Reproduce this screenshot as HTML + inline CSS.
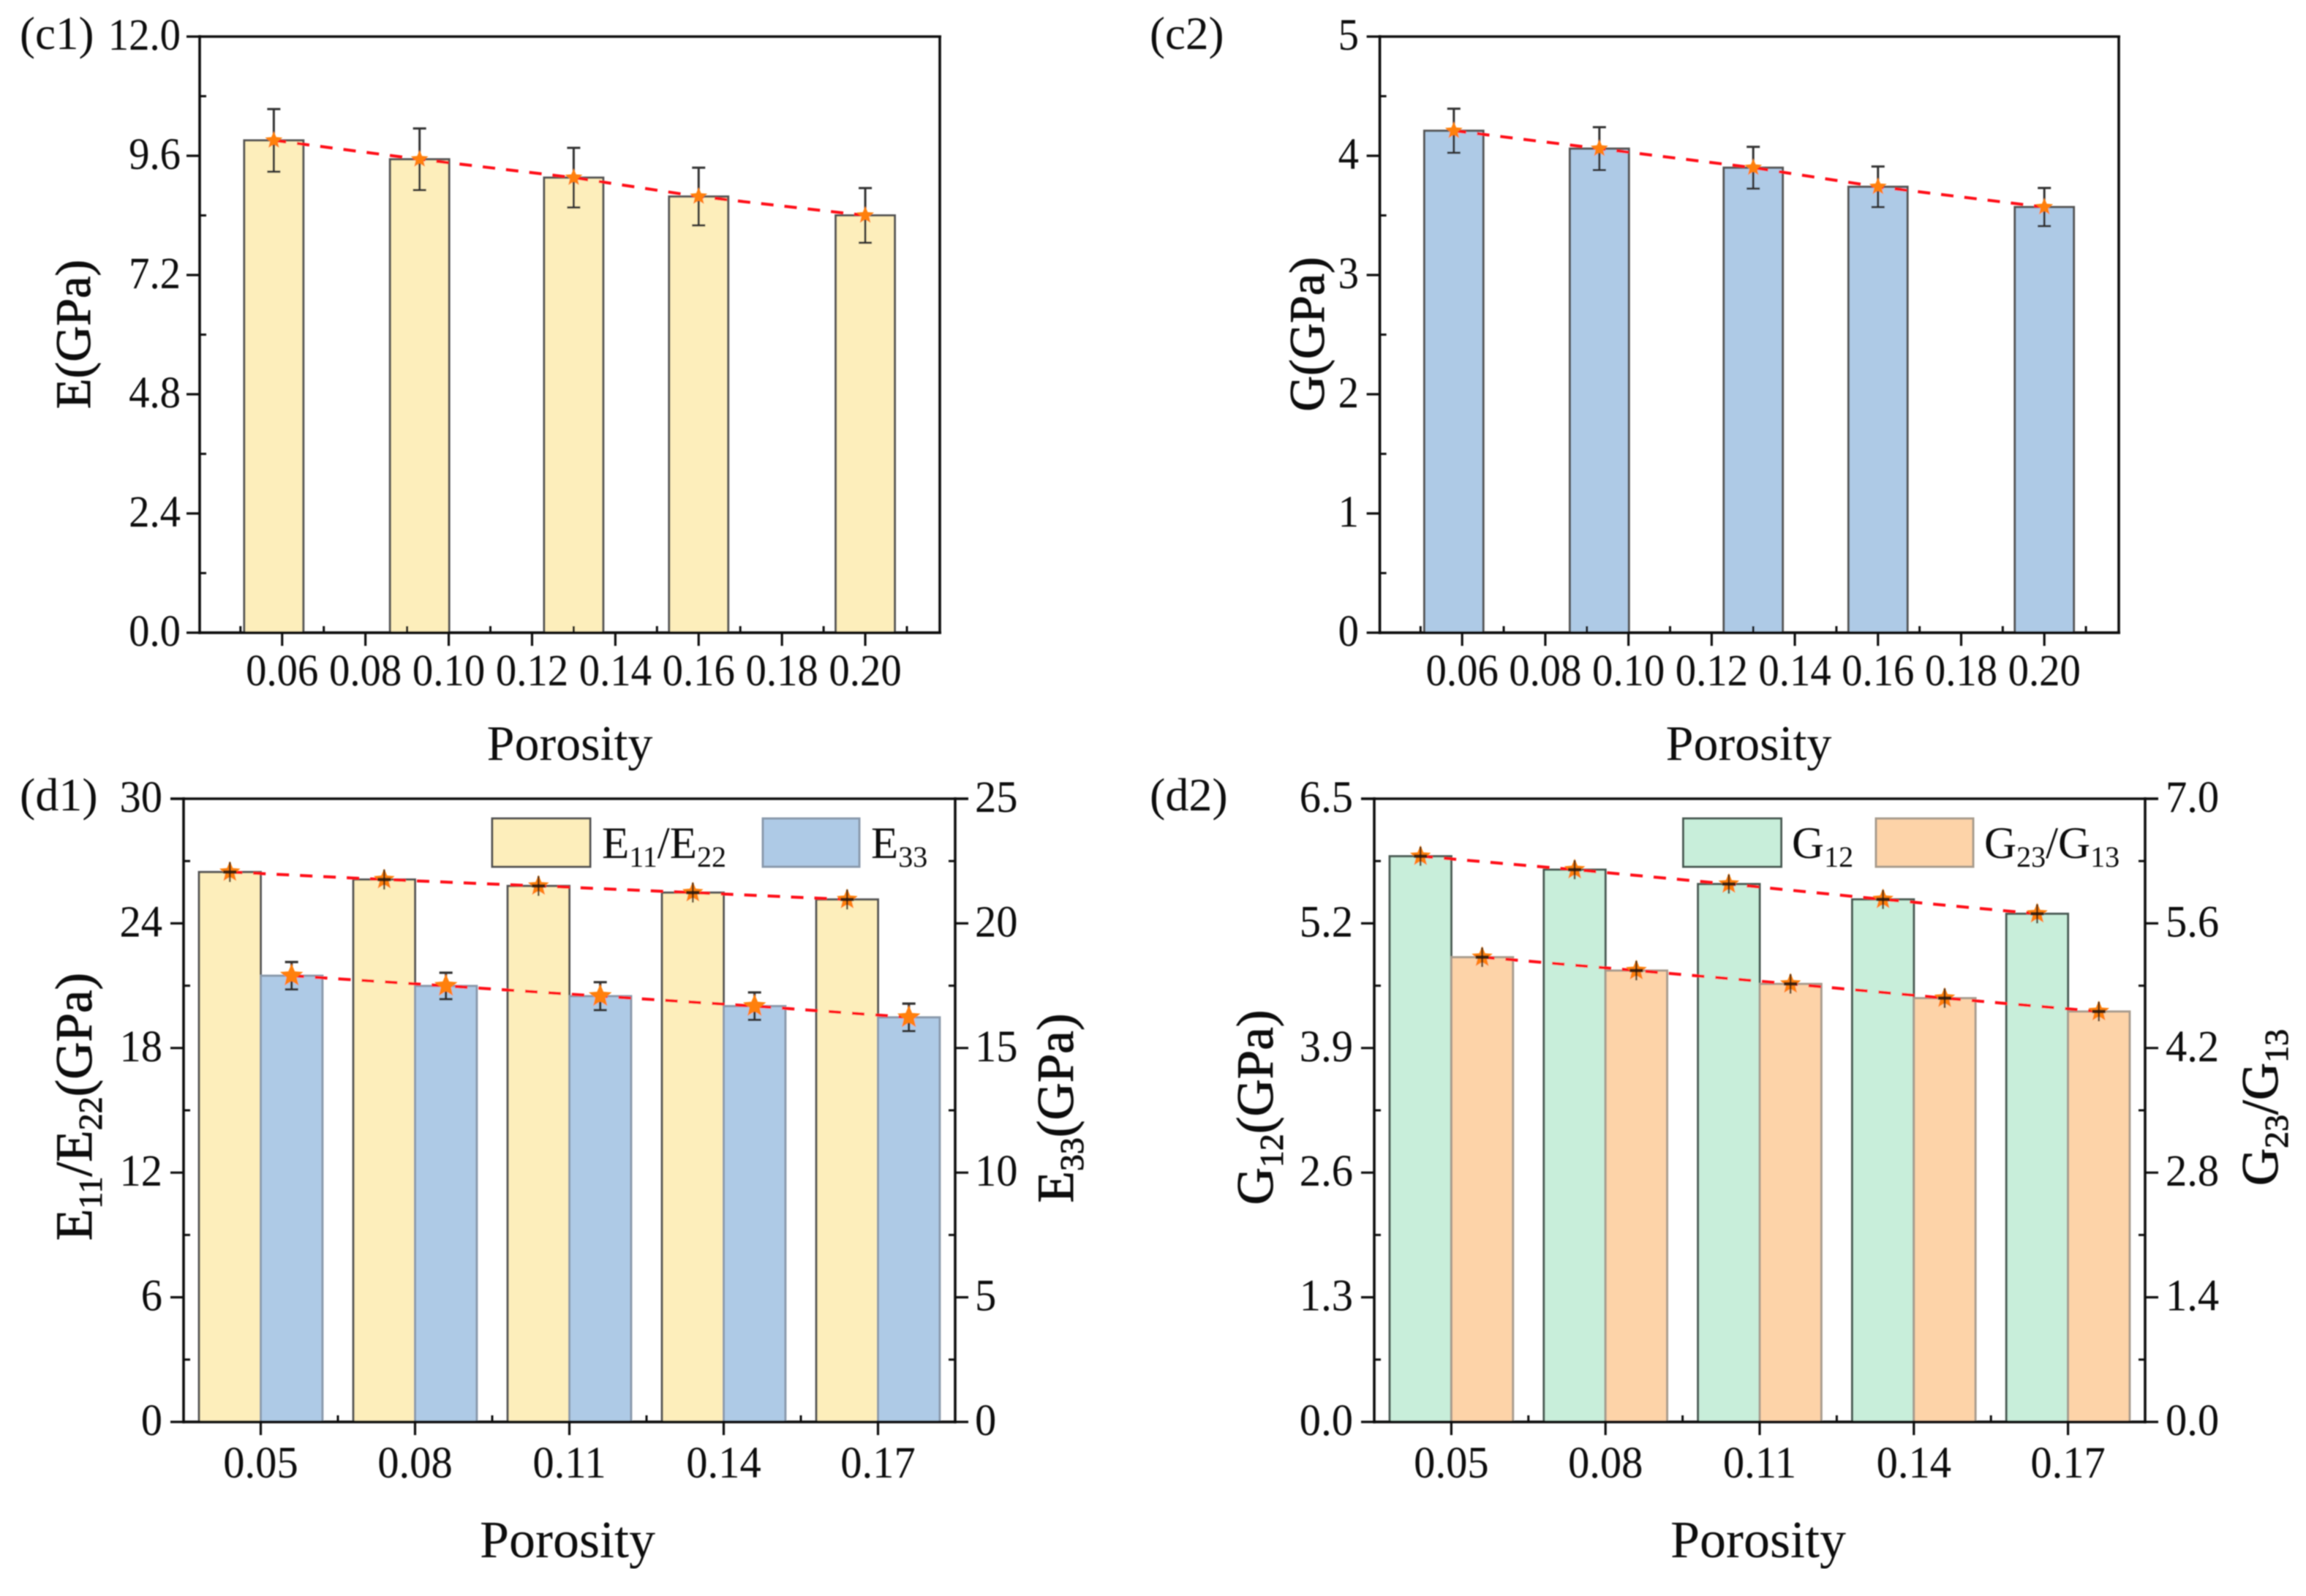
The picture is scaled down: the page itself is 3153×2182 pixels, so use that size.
<!DOCTYPE html>
<html lang="en">
<head>
<meta charset="utf-8">
<title>Elastic moduli versus porosity</title>
<style>
html,body{margin:0;padding:0;background:#fff;}
svg{display:block;font-family:"Liberation Serif","Times New Roman",serif;fill:#111;}
.heavy{stroke:#111;stroke-width:0.9px;}
</style>
</head>
<body>
<svg id="figure" xmlns="http://www.w3.org/2000/svg" width="3153" height="2182" viewBox="0 0 3153 2182">
<defs>
<filter id="soft" x="0" y="0" width="100%" height="100%"><feGaussianBlur stdDeviation="0.8"/></filter>
</defs>
<rect x="0" y="0" width="3153" height="2182" fill="#fff"/>
<g id="root" filter="url(#soft)">
<g id="plots"></g>
<g>
<text x="27" y="67" font-size="63">(c1)</text>
<text x="1572" y="67" font-size="63">(c2)</text>
<text x="27" y="1108" font-size="64">(d1)</text>
<text x="1572" y="1108" font-size="64">(d2)</text>
</g>
<g font-size="68">
<text x="779" y="1039" text-anchor="middle">Porosity</text>
<text x="2391" y="1039" text-anchor="middle">Porosity</text>
<text x="776" y="2129" text-anchor="middle" font-size="72">Porosity</text>
<text x="2404" y="2129" text-anchor="middle" font-size="72">Porosity</text>
<text class="heavy" transform="translate(123,457) rotate(-90)" text-anchor="middle">E(GPa)</text>
<text class="heavy" transform="translate(1810,457) rotate(-90)" text-anchor="middle">G(GPa)</text>
<text class="heavy" transform="translate(125,1513) rotate(-90)" text-anchor="middle" font-size="71">E<tspan font-size="46" dy="14">11</tspan><tspan dy="-14">/E</tspan><tspan font-size="46" dy="14">22</tspan><tspan dy="-14">(GPa)</tspan></text>
<text class="heavy" transform="translate(1467,1515) rotate(-90)" text-anchor="middle" font-size="71">E<tspan font-size="46" dy="14">33</tspan><tspan dy="-14">(GPa)</tspan></text>
<text class="heavy" transform="translate(1740,1514) rotate(-90)" text-anchor="middle" font-size="71">G<tspan font-size="46" dy="14">12</tspan><tspan dy="-14">(GPa)</tspan></text>
<text class="heavy" transform="translate(3114,1514) rotate(-90)" text-anchor="middle" font-size="71">G<tspan font-size="46" dy="14">23</tspan><tspan dy="-14">/G</tspan><tspan font-size="46" dy="14">13</tspan></text>
</g>
<g font-size="61">
<rect x="673" y="1119" width="134" height="66" fill="#fdeebb" stroke="#555" stroke-width="3"/>
<text x="823" y="1173">E<tspan font-size="40" dy="12">11</tspan><tspan dy="-12">/E</tspan><tspan font-size="40" dy="12">22</tspan></text>
<rect x="1043" y="1119" width="132" height="66" fill="#aecae6" stroke="#8a9aac" stroke-width="3"/>
<text x="1191" y="1173">E<tspan font-size="40" dy="12">33</tspan></text>
</g>
<g font-size="61">
<rect x="2301.5" y="1119" width="134" height="66" fill="#c8eeda" stroke="#4a5a52" stroke-width="3"/>
<text x="2450" y="1173">G<tspan font-size="40" dy="12">12</tspan></text>
<rect x="2565" y="1119" width="133" height="66" fill="#fdd3a8" stroke="#a89c8e" stroke-width="3"/>
<text x="2713" y="1173">G<tspan font-size="40" dy="12">23</tspan><tspan dy="-12">/G</tspan><tspan font-size="40" dy="12">13</tspan></text>
</g>
</g>
</svg>
<script>
// ---- data ----
const cPorosity = [0.058, 0.093, 0.13, 0.16, 0.20];
const cXTickValues = [0.06, 0.08, 0.10, 0.12, 0.14, 0.16, 0.18, 0.20];
const cXTickLabels = ['0.06', '0.08', '0.10', '0.12', '0.14', '0.16', '0.18', '0.20'];
const cXMinorValues = [0.05, 0.07, 0.09, 0.11, 0.13, 0.15, 0.17, 0.19, 0.21];

const c1Values = [9.91, 9.53, 9.16, 8.78, 8.40];
const c1Errors = [0.63, 0.62, 0.60, 0.58, 0.55];
const c1YTicks = ['0.0', '2.4', '4.8', '7.2', '9.6', '12.0'];

const c2Values = [4.21, 4.06, 3.90, 3.74, 3.57];
const c2Errors = [0.185, 0.18, 0.175, 0.17, 0.16];
const c2YTicks = ['0', '1', '2', '3', '4', '5'];

const dCategories = ['0.05', '0.08', '0.11', '0.14', '0.17'];

const d1E11E22 = [26.47, 26.11, 25.80, 25.48, 25.15];
const d1E11E22Errors = [0.48, 0.48, 0.48, 0.48, 0.48];
const d1E33 = [17.90, 17.49, 17.08, 16.68, 16.23];
const d1E33Errors = [0.55, 0.53, 0.56, 0.55, 0.55];
const d1LeftTicks = ['0', '6', '12', '18', '24', '30'];
const d1RightTicks = ['0', '5', '10', '15', '20', '25'];

const d2G12 = [5.90, 5.76, 5.61, 5.45, 5.30];
const d2G12Errors = [0.1, 0.1, 0.1, 0.1, 0.1];
const d2G23G13 = [5.22, 5.07, 4.92, 4.76, 4.61];
const d2G23G13Errors = [0.11, 0.11, 0.11, 0.11, 0.11];
const d2LeftTicks = ['0.0', '1.3', '2.6', '3.9', '5.2', '6.5'];
const d2RightTicks = ['0.0', '1.4', '2.8', '4.2', '5.6', '7.0'];

// ---- drawing helpers ----
const SVGNS = 'http://www.w3.org/2000/svg';
const plots = document.getElementById('plots');

function make(parent, tag, attrs) {
  const el = document.createElementNS(SVGNS, tag);
  for (const k in attrs) el.setAttribute(k, attrs[k]);
  parent.appendChild(el);
  return el;
}
function linear(d0, d1, r0, r1) {
  return v => r0 + (v - d0) * (r1 - r0) / (d1 - d0);
}
function drawLine(parent, x1, y1, x2, y2, width, name) {
  const el = make(parent, 'line', {x1: x1, y1: y1, x2: x2, y2: y2, stroke: '#111', 'stroke-width': width});
  
  
  return el;
}
function drawLabel(parent, x, y, str, anchor, sx, name) {
  const el = make(parent, 'text', {
    transform: 'translate(' + x + ',' + y + ') scale(' + sx + ',1)',
    'text-anchor': anchor, 'font-size': 61
  });
  el.textContent = str;
  
  
  return el;
}
function starPoints(cx, cy, R) {
  const pts = [];
  for (let i = 0; i < 10; i++) {
    const r = i % 2 === 0 ? R : R * 0.45;
    const a = -Math.PI / 2 + i * Math.PI / 5;
    pts.push((cx + r * Math.cos(a)).toFixed(2) + ',' + (cy + r * Math.sin(a)).toFixed(2));
  }
  return pts.join(' ');
}
function drawBars(parent, xs, values, yScale, barW, fill, stroke, name) {
  const base = yScale(0);
  values.forEach((v, i) => {
    const top = yScale(v);
    const el = make(parent, 'rect', {
      x: xs[i] - barW / 2, y: top, width: barW, height: base - top,
      fill: fill, stroke: stroke, 'stroke-width': 3
    });
    
    
  });
}
function drawTrend(parent, xs, values, yScale, name) {
  const pts = values.map((v, i) => xs[i].toFixed(2) + ',' + yScale(v).toFixed(2)).join(' ');
  const el = make(parent, 'polyline', {
    points: pts, fill: 'none', stroke: '#ff0a14', 'stroke-width': 4, 'stroke-dasharray': '17 15'
  });
  
  
}
function drawStars(parent, xs, values, yScale, R, name) {
  values.forEach((v, i) => {
    const el = make(parent, 'polygon', {points: starPoints(xs[i], yScale(v), R), fill: '#ff8008'});
    
    
  });
}
function drawErrors(parent, xs, values, errors, yScale, capW, width, name) {
  values.forEach((v, i) => {
    const hi = yScale(v + errors[i]);
    const lo = yScale(v - errors[i]);
    const g = make(parent, 'g', {stroke: '#333', 'stroke-width': width});
    
    
    make(g, 'line', {x1: xs[i], y1: hi, x2: xs[i], y2: lo});
    make(g, 'line', {x1: xs[i] - capW / 2, y1: hi, x2: xs[i] + capW / 2, y2: hi});
    make(g, 'line', {x1: xs[i] - capW / 2, y1: lo, x2: xs[i] + capW / 2, y2: lo});
  });
}
function drawTightErrors(parent, xs, values, errors, yScale, name) {
  values.forEach((v, i) => {
    const cy = yScale(v);
    const g = make(parent, 'g', {stroke: '#2a1a08'});
    
    
    make(g, 'line', {x1: xs[i], y1: yScale(v + errors[i]), x2: xs[i], y2: yScale(v - errors[i]), 'stroke-width': 2.6, 'stroke-opacity': 0.75});
    make(g, 'line', {x1: xs[i] - 9, y1: cy, x2: xs[i] + 9, y2: cy, 'stroke-width': 4.5, 'stroke-opacity': 0.9});
  });
}
function drawYAxis(parent, x, yScale, ticks, dir, name, labelX, anchor, sx) {
  const g = make(parent, 'g', {});
  
  
  const vals = ticks.map(parseFloat);
  vals.forEach((v, i) => {
    const y = yScale(v);
    drawLine(g, x, y, x - dir * 18, y, 3.2, name + '-major-tick');
    drawLabel(g, labelX, y + 18, ticks[i], anchor, sx, name + '-tick-label');
    if (i < vals.length - 1) {
      const my = yScale((v + vals[i + 1]) / 2);
      drawLine(g, x, my, x + dir * 9, my, 3, name + '-minor-tick');
    }
  });
}

// ---- panel c: single-series bars on a numeric porosity axis ----
function panelC(key, box, values, errors, yTicks, fill, labelRight) {
  const g = make(plots, 'g', {});
  
  
  const xScale = linear(0.0402, 0.2179, box.left, box.right);
  const yScale = linear(0, parseFloat(yTicks[yTicks.length - 1]), box.bottom, box.top);
  const xs = cPorosity.map(xScale);
  const barW = xScale(0.0142) - xScale(0);
  drawBars(g, xs, values, yScale, barW, fill, '#555', key);
  drawTrend(g, xs, values, yScale, key);
  drawErrors(g, xs, values, errors, yScale, 18, 3, key);
  drawStars(g, xs, values, yScale, 12.5, key);
  // frame
  drawLine(g, box.left, box.top, box.right + 2, box.top, 3.6, key + '-top-axis');
  drawLine(g, box.right, box.top, box.right, box.bottom, 3.6, key + '-right-axis');
  drawLine(g, box.left, box.top - 2, box.left, box.bottom + 2, 3.6, key + '-left-axis');
  drawLine(g, box.left, box.bottom, box.right + 2, box.bottom, 3.8, key + '-x-axis');
  drawYAxis(g, box.left, yScale, yTicks, 1, key + '-y-axis', labelRight, 'end', 0.93);
  cXTickValues.forEach((v, i) => {
    const x = xScale(v);
    drawLine(g, x, box.bottom, x, box.bottom + 18, 3.2, key + '-x-major-tick');
    drawLabel(g, x, 937, cXTickLabels[i], 'middle', 0.93, key + '-x-tick-label');
  });
  cXMinorValues.forEach(v => {
    const x = xScale(v);
    drawLine(g, x, box.bottom, x, box.bottom - 9, 3, key + '-x-minor-tick');
  });
}

// ---- panel d: paired bars with two y axes ----
function panelD(key, box, s1, s1Err, s2, s2Err, leftTicks, rightTicks, style, leftLabelX, rightLabelX) {
  const g = make(plots, 'g', {});
  
  
  const xScale = linear(-0.5, dCategories.length - 0.5, box.left, box.right);
  const yL = linear(0, parseFloat(leftTicks[leftTicks.length - 1]), box.bottom, box.top);
  const yR = linear(0, parseFloat(rightTicks[rightTicks.length - 1]), box.bottom, box.top);
  const xs1 = dCategories.map((c, i) => xScale(i - 0.2));
  const xs2 = dCategories.map((c, i) => xScale(i + 0.2));
  const barW = xScale(0.4) - xScale(0);
  drawBars(g, xs1, s1, yL, barW, style.fill1, style.stroke1, key + '-' + style.name1);
  drawBars(g, xs2, s2, yR, barW, style.fill2, style.stroke2, key + '-' + style.name2);
  drawTrend(g, xs1, s1, yL, key + '-' + style.name1);
  drawTrend(g, xs2, s2, yR, key + '-' + style.name2);
  drawStars(g, xs1, s1, yL, 15, key + '-' + style.name1);
  drawTightErrors(g, xs1, s1, s1Err, yL, key + '-' + style.name1);
  if (style.wideSecond) {
    drawErrors(g, xs2, s2, s2Err, yR, 18, 3.2, key + '-' + style.name2);
    drawStars(g, xs2, s2, yR, 16.5, key + '-' + style.name2);
  } else {
    drawStars(g, xs2, s2, yR, 15, key + '-' + style.name2);
    drawTightErrors(g, xs2, s2, s2Err, yR, key + '-' + style.name2);
  }
  drawLine(g, box.left - 18, box.top, box.right + 18, box.top, 3.6, key + '-top-axis');
  drawLine(g, box.left, box.top - 2, box.left, box.bottom + 2, 3.6, key + '-left-axis');
  drawLine(g, box.right, box.top - 2, box.right, box.bottom + 2, 3.6, key + '-right-axis');
  drawLine(g, box.left, box.bottom, box.right, box.bottom, 3.8, key + '-x-axis');
  drawYAxis(g, box.left, yL, leftTicks, 1, key + '-left-y-axis', leftLabelX, 'end', 0.96);
  drawYAxis(g, box.right, yR, rightTicks, -1, key + '-right-y-axis', rightLabelX, 'start', 0.96);
  dCategories.forEach((label, i) => {
    const x = xScale(i);
    drawLine(g, x, box.bottom, x, box.bottom + 18, 3.2, key + '-x-major-tick');
    drawLabel(g, x, 2020, label, 'middle', 0.96, key + '-x-tick-label');
    if (i < dCategories.length - 1) {
      const mx = xScale(i + 0.5);
      drawLine(g, mx, box.bottom, mx, box.bottom - 9, 3, key + '-x-minor-tick');
    }
  });
}

panelC('c1', {left: 273, right: 1285, top: 50, bottom: 865}, c1Values, c1Errors, c1YTicks, '#fdeebb', 247);
panelC('c2', {left: 1886.6, right: 2897, top: 50, bottom: 865}, c2Values, c2Errors, c2YTicks, '#aecae6', 1858);

panelD('d1', {left: 251, right: 1306, top: 1092, bottom: 1944},
  d1E11E22, d1E11E22Errors, d1E33, d1E33Errors, d1LeftTicks, d1RightTicks,
  {name1: 'e11-e22', name2: 'e33', fill1: '#fdeebb', stroke1: '#555', fill2: '#aecae6', stroke2: '#8a9aac', wideSecond: true},
  222, 1333);
panelD('d2', {left: 1879, right: 2933, top: 1092, bottom: 1944},
  d2G12, d2G12Errors, d2G23G13, d2G23G13Errors, d2LeftTicks, d2RightTicks,
  {name1: 'g12', name2: 'g23-g13', fill1: '#c8eeda', stroke1: '#4a5a52', fill2: '#fdd3a8', stroke2: '#a89c8e', wideSecond: false},
  1850, 2961);
</script>
</body>
</html>
